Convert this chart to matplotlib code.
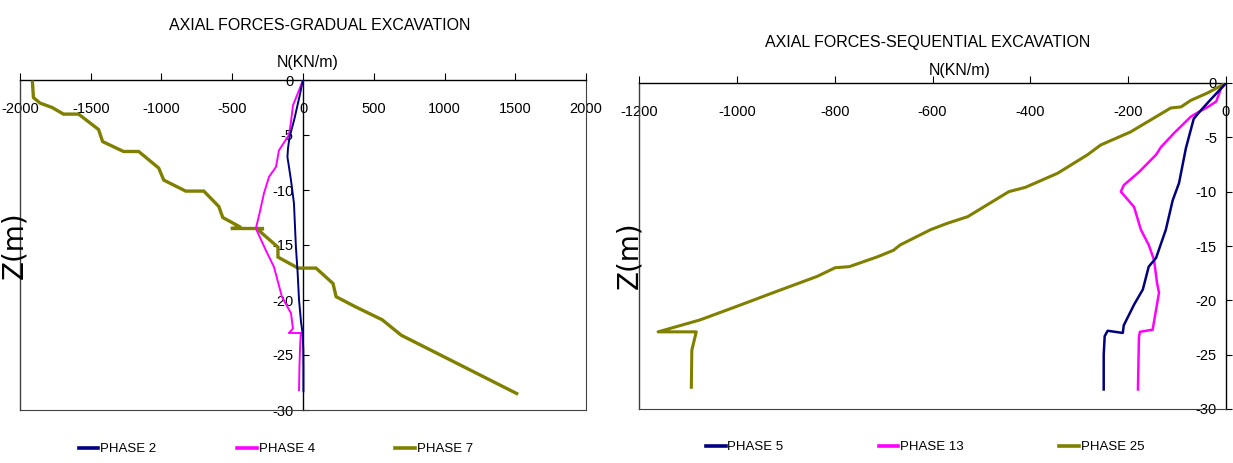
import matplotlib
matplotlib.use("Agg")
import matplotlib.pyplot as plt
from matplotlib.lines import Line2D

plt.rcParams['font.family'] = ['Liberation Sans', 'DejaVu Sans']
plt.rcParams['axes.unicode_minus'] = False

# ---- Gradual excavation: axial force N (kN/m) vs depth Z (m) ----
grad_p2_n = [0, -25, -60, -95, -106, -110, -98, -85, -64, -50, -38, -28, -14, -3, 2, 3, 3]
grad_p2_z = [0, -1.5, -3.5, -5.2, -6.2, -7.0, -8.0, -9.1, -11.2, -15.2, -17.5, -20.0, -22.0, -23.0, -24.5, -26.0, -28.3]

grad_p4_n = [0, -30, -71, -85, -99, -140, -170, -191, -240, -276, -305, -333, -262, -205,
             -149, -85, -71, -100, -15, -20, -25, -28]
grad_p4_z = [0, -1.0, -2.3, -3.8, -5.0, -5.8, -6.4, -7.9, -8.8, -10.3, -12.0, -13.5, -15.5, -17.0,
             -19.7, -21.2, -22.6, -23.0, -23.0, -24.0, -26.0, -28.2]

grad_p7_n = [-1912, -1905, -1858, -1773, -1693, -1586, -1445, -1416, -1268, -1161, -1020, -984,
             -829, -701, -595, -567, -439, -510, -276, -319, -177, -177, -35, 92, 212, 234,
             368, 560, 694, 1079, 1510]
grad_p7_z = [-0.2, -1.6, -2.1, -2.5, -3.1, -3.1, -4.5, -5.6, -6.5, -6.5, -8.0, -9.1,
             -10.1, -10.1, -11.5, -12.5, -13.4, -13.5, -13.5, -13.6, -15.2, -16.1, -17.1, -17.1, -18.5, -19.7,
             -20.6, -21.8, -23.2, -25.7, -28.5]

# ---- Sequential excavation ----
seq_p5_n = [0, -6, -37, -57, -66, -82, -96, -109, -123, -143, -158, -170, -188, -209, -211,
            -242, -248, -250, -250]
seq_p5_z = [0, -0.3, -1.8, -2.8, -3.3, -6.0, -9.2, -10.8, -13.5, -16.1, -16.9, -19.0, -20.4, -22.3, -23.0,
            -22.8, -23.3, -25.0, -28.2]

seq_p13_n = [0, -10, -20, -37, -61, -72, -106, -133, -143, -178, -209, -215, -188, -174, -158,
             -147, -141, -137, -150, -176, -178, -180]
seq_p13_z = [0, -0.5, -1.7, -2.2, -2.8, -3.1, -4.6, -5.9, -6.6, -8.2, -9.4, -10.0, -11.4, -13.5, -14.9,
             -16.3, -18.4, -19.3, -22.7, -22.9, -23.4, -28.2]

seq_p25_n = [0, -37, -72, -92, -113, -154, -195, -256, -283, -344, -410, -444, -528, -569, -604,
             -666, -680, -713, -770, -799, -836, -926, -991, -1075, -1161, -1083, -1092, -1093]
seq_p25_z = [0, -0.9, -1.6, -2.2, -2.3, -3.4, -4.5, -5.7, -6.6, -8.3, -9.6, -10.0, -12.3, -12.9, -13.5,
             -14.9, -15.4, -16.0, -16.9, -17.0, -17.8, -19.3, -20.4, -21.8, -22.9, -22.9, -24.6, -28.0]

grad_xticks = [-2000, -1500, -1000, -500, 0, 500, 1000, 1500, 2000]
seq_xticks = [-1200, -1000, -800, -600, -400, -200, 0]
z_ticks = [0, -5, -10, -15, -20, -25, -30]

C_NAVY = '#000080'
C_MAG = '#FF00FF'
C_OLIVE = '#808000'
BOX = '#404040'
TICK_FS = 10.5

fig = plt.figure(figsize=(12.33, 4.63), dpi=100)
W, H = 1233, 463


def px_axes(x0, x1, ytop, ybot):
    return fig.add_axes([x0 / W, (H - ybot) / H, (x1 - x0) / W, (ybot - ytop) / H])


def style_axes(ax, xlim, xticks, ylab_pad, hide_right):
    ax.set_xlim(*xlim)
    ax.set_ylim(-30, 0)
    ax.set_xticks(xticks)
    ax.set_xticklabels([str(v) for v in xticks])
    ax.set_yticks(z_ticks)
    ax.set_yticklabels([str(v) for v in z_ticks])
    # vertical axis runs through N = 0
    ax.spines['left'].set_position(('data', 0))
    ax.spines['left'].set_color('black')
    ax.spines['left'].set_linewidth(1.0)
    ax.spines['top'].set_color('black')
    ax.spines['top'].set_linewidth(1.0)
    ax.spines['bottom'].set_color(BOX)
    ax.spines['right'].set_color(BOX)
    ax.spines['right'].set_visible(not hide_right)
    # left edge of the plot frame
    ax.plot([0, 0], [0, 1], transform=ax.transAxes, color=BOX, lw=1.0, clip_on=False)
    ax.xaxis.set_ticks_position('top')
    ax.tick_params(axis='x', direction='out', length=5, width=0.8, labeltop=True,
                   labelbottom=False, pad=-31, labelsize=TICK_FS)
    ax.tick_params(axis='y', direction='in', length=4, width=0.8, pad=ylab_pad, labelsize=TICK_FS)
    for lab in ax.get_xticklabels():
        lab.set_va('bottom')


# Left panel
ax1 = px_axes(20, 586, 80, 410)
style_axes(ax1, (-2000, 2000), grad_xticks, 7, hide_right=False)
ax1.plot(grad_p7_n, grad_p7_z, color=C_OLIVE, lw=2.4, solid_joinstyle='miter', zorder=3)
ax1.plot(grad_p4_n, grad_p4_z, color=C_MAG, lw=1.4, zorder=4)
ax1.plot(grad_p2_n, grad_p2_z, color=C_NAVY, lw=1.4, zorder=5)

# Right panel
ax2 = px_axes(639, 1226, 83, 409)
style_axes(ax2, (-1200, 0), seq_xticks, 6.5, hide_right=True)
ax2.plot(seq_p25_n, seq_p25_z, color=C_OLIVE, lw=2.2, zorder=3)
ax2.plot(seq_p13_n, seq_p13_z, color=C_MAG, lw=1.8, zorder=4)
ax2.plot(seq_p5_n, seq_p5_z, color=C_NAVY, lw=1.8, zorder=5)

# Titles and axis names
fig.text(320 / W, 1 - 26 / H, 'AXIAL FORCES-GRADUAL EXCAVATION', ha='center', va='center', fontsize=11.5)
fig.text(308 / W, 1 - 62 / H, 'N(KN/m)', ha='center', va='center', fontsize=11.5)
fig.text(928 / W, 1 - 42 / H, 'AXIAL FORCES-SEQUENTIAL EXCAVATION', ha='center', va='center', fontsize=11.5)
fig.text(960 / W, 1 - 70 / H, 'N(KN/m)', ha='center', va='center', fontsize=11.5)
fig.text(14 / W, 1 - 245 / H, 'Z(m)', ha='center', va='center', rotation=90, fontsize=20,
         family='DejaVu Sans')
fig.text(629 / W, 1 - 255 / H, 'Z(m)', ha='center', va='center', rotation=90, fontsize=20,
         family='DejaVu Sans')


def legend_row(labels, colors, cx, cy, spacing):
    handles = [Line2D([], [], color=c, lw=2.6) for c in colors]
    fig.legend(handles, labels, loc='center', bbox_to_anchor=(cx / W, 1 - cy / H),
               bbox_transform=fig.transFigure, ncol=3, frameon=False, fontsize=9.5,
               handlelength=1.5, handletextpad=0.15, columnspacing=spacing,
               borderaxespad=0, borderpad=0)


legend_row(['PHASE 2', 'PHASE 4', 'PHASE 7'], [C_NAVY, C_MAG, C_OLIVE], 276, 449, 6.1)
legend_row(['PHASE 5', 'PHASE 13', 'PHASE 25'], [C_NAVY, C_MAG, C_OLIVE], 925, 447, 7.2)

fig.savefig('out.png', dpi=100)
